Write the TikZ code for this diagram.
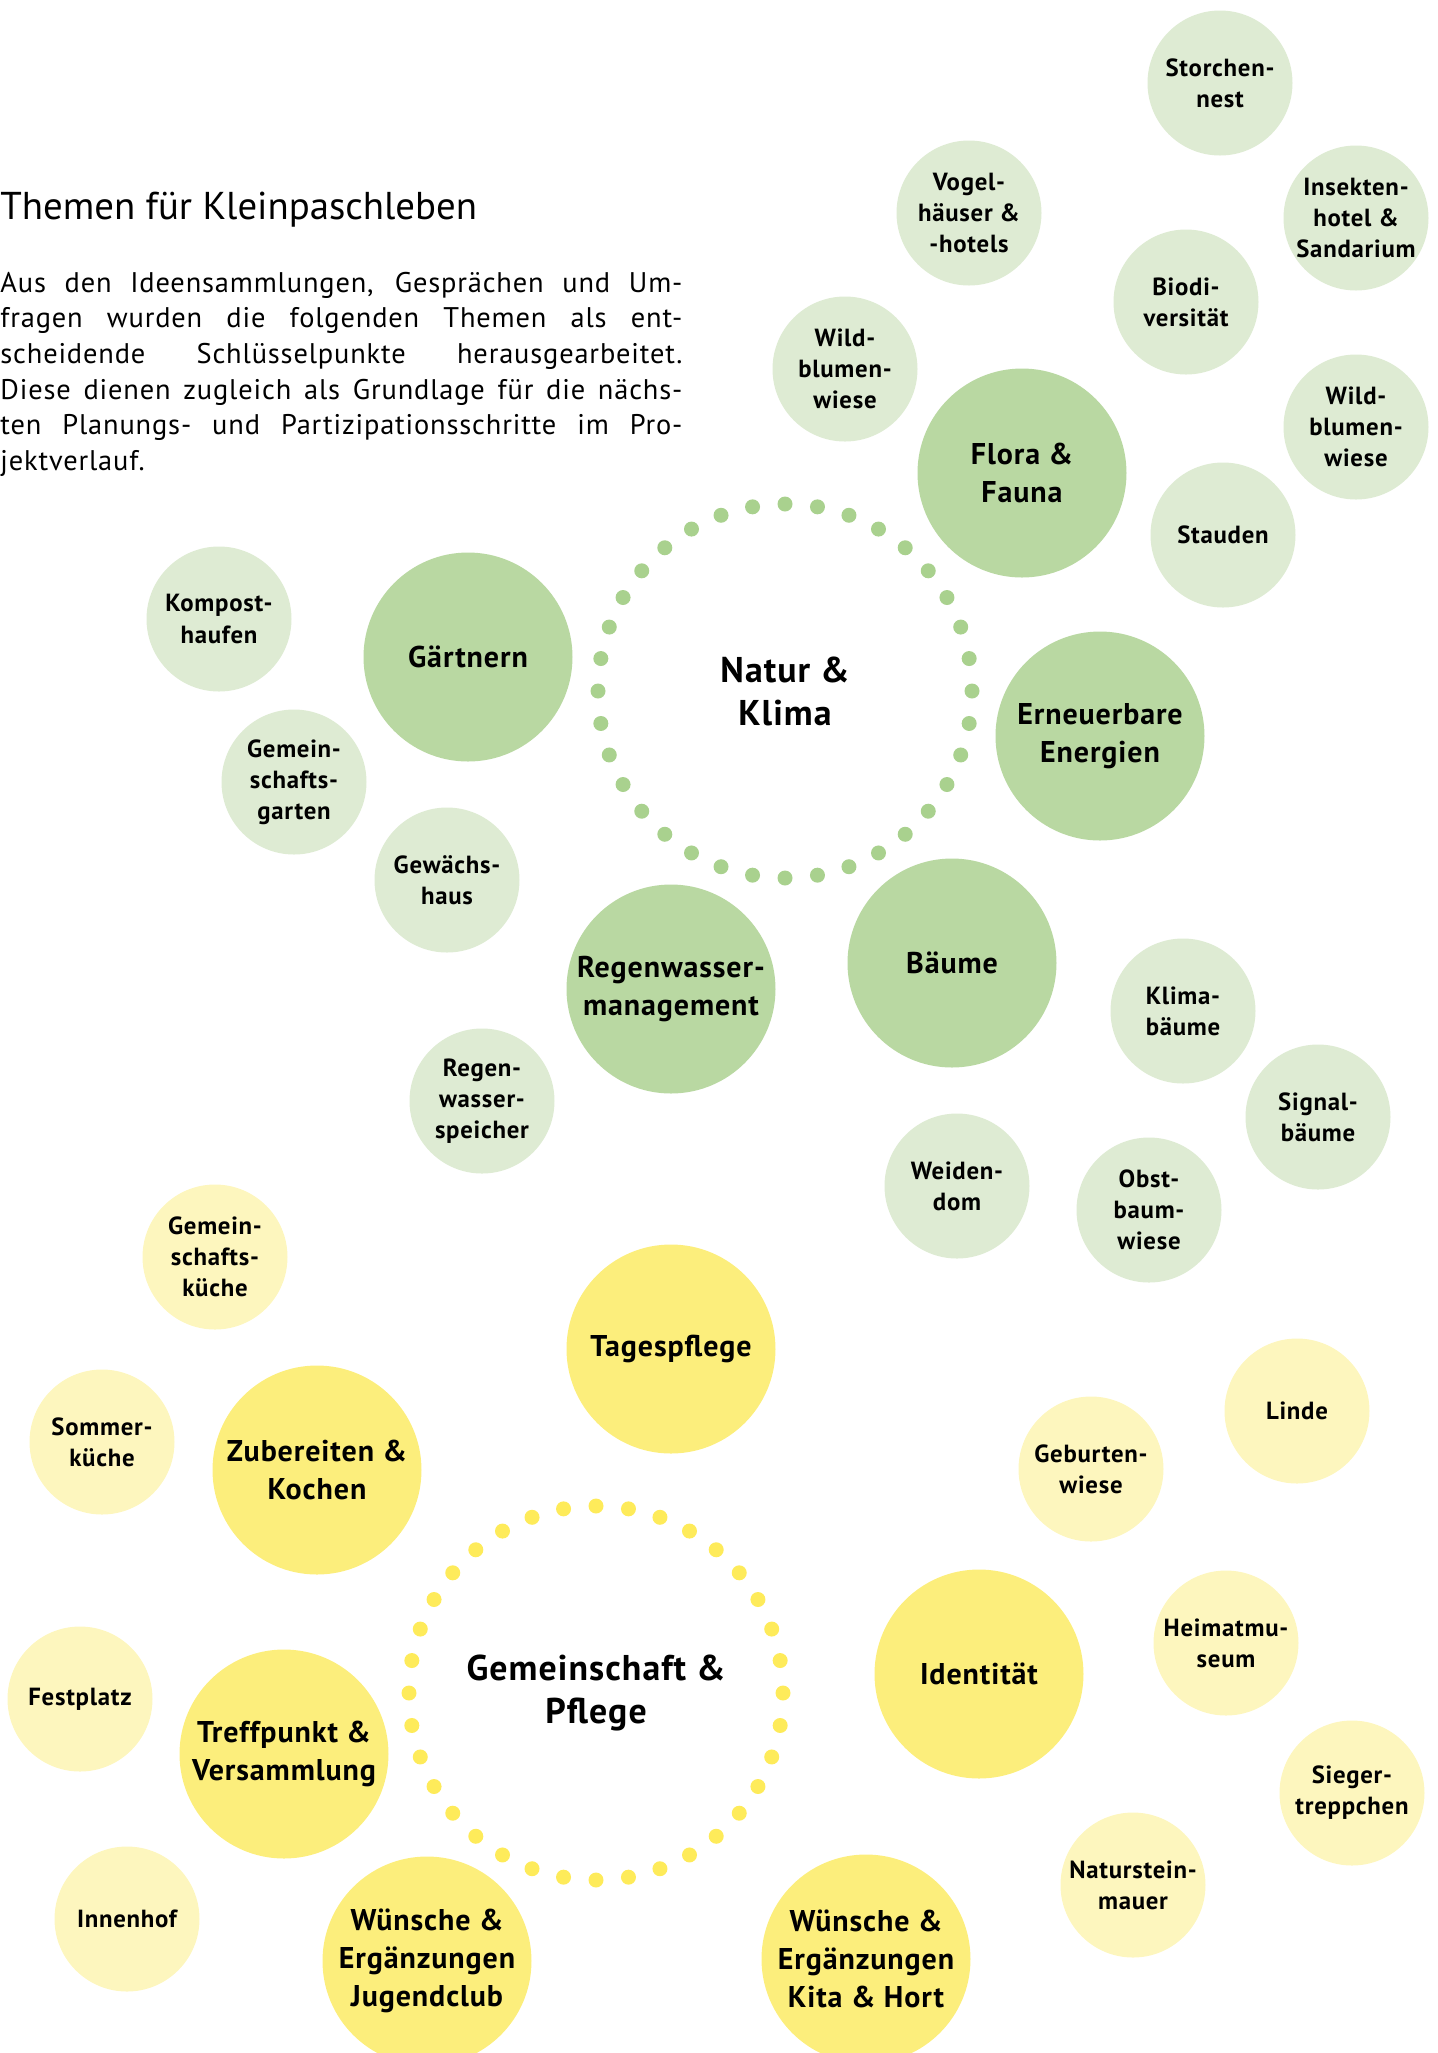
\documentclass[tikz,border=0pt]{standalone}
\usepackage{fontspec}
\usepackage{xcolor}
\usepackage{tikz}
\setmainfont{PT Sans}
\newfontfamily\bubfamily[LetterSpace=3]{PT Sans}
\newfontfamily\bodyfamily[LetterSpace=3]{PT Sans}

\definecolor{greendot}{HTML}{A9D18E}
\definecolor{greenmid}{HTML}{B9D8A2}
\definecolor{greenlight}{HTML}{DEEBD3}
\definecolor{yellowdot}{HTML}{FEEB5A}
\definecolor{yellowmid}{HTML}{FCEE7C}
\definecolor{yellowlight}{HTML}{FDF6BE}

\newcommand{\bubsmall}{\bubfamily\bfseries\fontsize{12.4}{15.6}\selectfont}
\newcommand{\bubbig}{\bubfamily\bfseries\fontsize{15}{19}\selectfont}
\newcommand{\bubhub}{\bubfamily\bfseries\fontsize{17.9}{21.5}\selectfont}
\newcommand{\bodytitle}{\fontsize{19.4}{23}\selectfont}
\newcommand{\bodytext}{\bodyfamily\fontsize{14.2}{17.85}\selectfont}

\begin{document}
\begin{tikzpicture}[x=0.5pt, y=-0.5pt,
    bubble/.style={circle, inner sep=0pt, align=center, text=black},
    gsmall/.style={bubble, fill=greenlight, minimum size=72.5pt, font=\bubsmall},
    gbig/.style={bubble, fill=greenmid, minimum size=104.5pt, font=\bubbig},
    ysmall/.style={bubble, fill=yellowlight, minimum size=72.5pt, font=\bubsmall},
    ybig/.style={bubble, fill=yellowmid, minimum size=104.5pt, font=\bubbig},
    hub/.style={align=center, inner sep=0pt, text=black, font=\bubhub},
    intro/.style={anchor=base west, inner sep=0pt, text=black}]
    \clip (0,0) rectangle (1438,2053);

    % Intro text
    \node[intro, font=\bodytitle] (title) at (0,219) {Themen für Kleinpaschleben};
    \foreach \t [count=\i] in {{Aus den Ideensammlungen, Gesprächen und Um-},
        {fragen wurden die folgenden Themen als ent-},
        {scheidende Schlüsselpunkte herausgearbeitet.},
        {Diese dienen zugleich als Grundlage für die nächs-},
        {ten Planungs- und Partizipationsschritte im Pro-}}
        \node[intro, font=\bodytext] (line\i) at (0,{292+35.7*(\i-1)}) {\makebox[341pt][s]{\t}};
    \node[intro, font=\bodytext] (line6) at (0,{292+35.7*5}) {jektverlauf.};

    % Natur & Klima
    \node[hub] (nk) at (785,691) {Natur \&\\Klima};
    \foreach \a in {0,10,...,350}
        \fill[greendot] (nk.center) ++(\a:187) circle (7.5);

    \node[gbig] (ff) at (1022,473) {Flora \&\\Fauna};
    \node[gbig] (gae) at (468,657) {Gärtnern};
    \node[gbig] (ee) at (1100,736) {Erneuerbare\\Energien};
    \node[gbig] (rm) at (671,989) {Regenwasser-\\management};
    \node[gbig] (bae) at (952,963) {Bäume};

    \node[gsmall] (sn) at (1220,83) {Storchen-\\nest};
    \node[gsmall] (vh) at (969,213) {Vogel-\\häuser \&\\-hotels};
    \node[gsmall] (ih) at (1356,218) {Insekten-\\hotel \&\\Sandarium};
    \node[gsmall] (bd) at (1186,302) {Biodi-\\versität};
    \node[gsmall] (wwl) at (845,369) {Wild-\\blumen-\\wiese};
    \node[gsmall] (wwr) at (1356,427) {Wild-\\blumen-\\wiese};
    \node[gsmall] (st) at (1223,535) {Stauden};
    \node[gsmall] (kh) at (219,619) {Kompost-\\haufen};
    \node[gsmall] (gg) at (294,782) {Gemein-\\schafts-\\garten};
    \node[gsmall] (gh) at (447,880) {Gewächs-\\haus};
    \node[gsmall] (rs) at (482,1101) {Regen-\\wasser-\\speicher};
    \node[gsmall] (kb) at (1183,1011) {Klima-\\bäume};
    \node[gsmall] (sb) at (1318,1117) {Signal-\\bäume};
    \node[gsmall] (wd) at (957,1186) {Weiden-\\dom};
    \node[gsmall] (ob) at (1149,1210) {Obst-\\baum-\\wiese};

    % Gemeinschaft & Pflege
    \node[hub] (gp) at (596,1693) {Gemeinschaft \&\\Pflege};
    \foreach \a in {0,10,...,350}
        \fill[yellowdot] (gp.center) ++(\a:187) circle (7.5);

    \node[ybig] (tp) at (671,1349) {Tagespflege};
    \node[ybig] (zk) at (317,1470) {Zubereiten \&\\Kochen};
    \node[ybig] (id) at (979,1674) {Identität};
    \node[ybig] (tv) at (284,1754) {Treffpunkt \&\\Versammlung};
    \node[ybig] (wj) at (427,1961) {Wünsche \&\\Ergänzungen\\Jugendclub};
    \node[ybig] (wk) at (866,1959) {Wünsche \&\\Ergänzungen\\Kita \& Hort};

    \node[ysmall] (gk) at (215,1257) {Gemein-\\schafts-\\küche};
    \node[ysmall] (sk) at (102,1442) {Sommer-\\küche};
    \node[ysmall] (fp) at (80,1699) {Festplatz};
    \node[ysmall] (ih2) at (127,1919) {Innenhof};
    \node[ysmall] (li) at (1297,1411) {Linde};
    \node[ysmall] (gw) at (1091,1469) {Geburten-\\wiese};
    \node[ysmall] (hm) at (1226,1643) {Heimatmu-\\seum};
    \node[ysmall] (sp) at (1352,1793) {Sieger-\\treppchen};
    \node[ysmall] (nm) at (1133,1885) {Naturstein-\\mauer};
\end{tikzpicture}
\end{document}
